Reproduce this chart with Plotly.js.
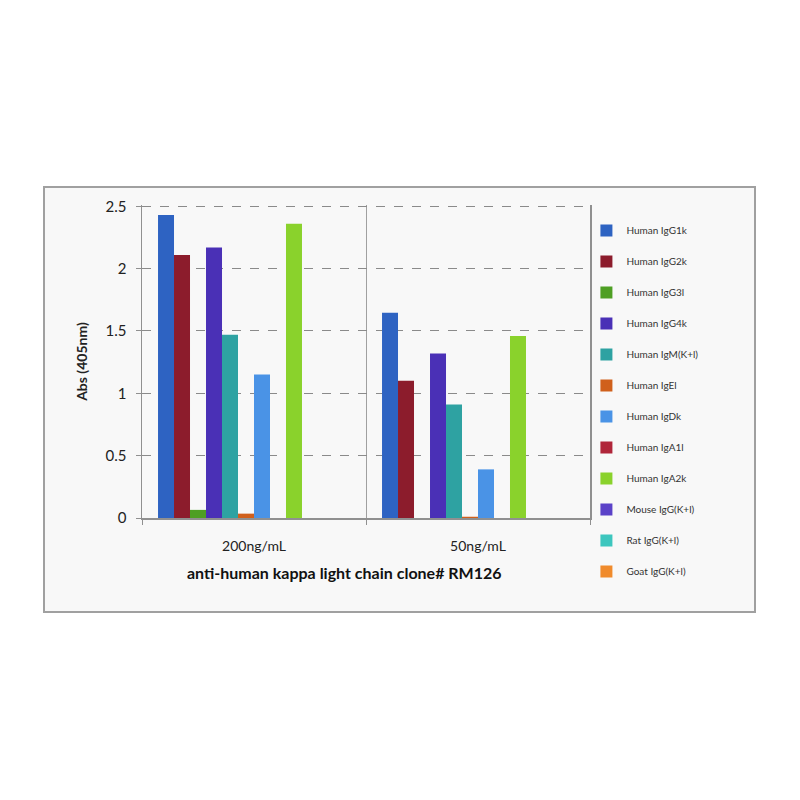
<!DOCTYPE html>
<html>
<head>
<meta charset="utf-8">
<script src="https://cdn.plot.ly/plotly-3.0.1.min.js"></script>
<style>body{margin:0;background:#fff;} #graph{width:800px;height:800px;}</style>
</head>
<body>
<div id="graph"></div>
<script>
const concentrations = ["200ng/mL", "50ng/mL"];
const antibodies = ["Human IgG1k", "Human IgG2k", "Human IgG3l", "Human IgG4k", "Human IgM(K+l)", "Human IgEl",
    "Human IgDk", "Human IgA1l", "Human IgA2k", "Mouse IgG(K+l)", "Rat IgG(K+l)", "Goat IgG(K+l)"];
// absorbance per antibody: [200ng/mL, 50ng/mL]
const abs_igg1k = [2.43, 1.645];
const abs_igg2k = [2.11, 1.10];
const abs_igg3l = [0.065, 0.0];
const abs_igg4k = [2.17, 1.32];
const abs_igm = [1.47, 0.91];
const abs_igel = [0.035, 0.01];
const abs_igdk = [1.15, 0.39];
const abs_iga1l = [0.0, 0.0];
const abs_iga2k = [2.36, 1.46];
const abs_mouse = [0.0, 0.0];
const abs_rat = [0.0, 0.0];
const abs_goat = [0.0, 0.0];
const series = [abs_igg1k, abs_igg2k, abs_igg3l, abs_igg4k, abs_igm, abs_igel, abs_igdk, abs_iga1l, abs_iga2k, abs_mouse, abs_rat, abs_goat];
const colors = ["#2E63C2", "#8C1C2C", "#4E9F24", "#4A30B6", "#2EA2A2", "#D0601C", "#4A93E6", "#B0263A", "#8AD22C", "#5B42C8", "#3DC6BE", "#F08B2C"];
const font_family = "Lato, 'Open Sans', sans-serif";

const traces = series.map((vals, i) => ({type: "bar", x: concentrations, y: vals, name: antibodies[i],
    legendgroup: "g" + i, marker: {color: colors[i], line: {width: 0}}}));

const plot_h = 800 - 205 - 282;
const layout = {
    width: 800, height: 800, paper_bgcolor: "#ffffff", plot_bgcolor: "rgba(0,0,0,0)",
    margin: {l: 142, r: 210, t: 205, b: 282},
    barmode: "group", bargap: 0.143, bargroupgap: 0,
    font: {family: font_family, color: "#222"},
    xaxis: {tickson: "boundaries", showgrid: true, gridcolor: "#a0a0a0", gridwidth: 1, ticks: "outside", ticklen: 5,
        tickcolor: "#909090", showline: true, linecolor: "#909090", linewidth: 1.5, mirror: false,
        tickfont: {size: 14, color: "#222"}, ticklabelstandoff: 15},
    yaxis: {range: [0, 2.51], dtick: 0.5, showgrid: true, griddash: "dash", gridcolor: "#8a8a8a", gridwidth: 1,
        zeroline: false, showline: true, mirror: true, linecolor: "#909090", linewidth: 1.5, ticks: "outside", ticklen: 5, tickcolor: "#909090",
        tickfont: {size: 15, color: "#222"}, ticklabelstandoff: 6,
        title: {text: "<b>Abs (405nm)</b>", font: {size: 14, color: "#222"}, standoff: 14}},
    showlegend: true,
    legend: {x: 0.992, xanchor: "left", y: 1 - 11 / plot_h, yanchor: "top", bgcolor: "rgba(0,0,0,0)", maxheight: 420,
        font: {size: 10, color: "#333"}, tracegroupgap: 12, itemwidth: 30, itemclick: false},
    annotations: [{text: "<b>anti-human kappa light chain clone# RM126</b>", xref: "paper", yref: "paper",
        x: 0.451, y: -54 / plot_h, xanchor: "center", yanchor: "middle", showarrow: false, font: {size: 16, color: "#111"}}],
    shapes: [{type: "rect", xref: "paper", yref: "paper", layer: "below",
        x0: (44 - 142) / 448, x1: (755 - 142) / 448, y0: (518 - 612) / plot_h, y1: 1 + (205 - 187) / plot_h,
        fillcolor: "#f8f8f8", line: {color: "#a0a0a0", width: 2}}]
};

Plotly.newPlot("graph", traces, layout, {displayModeBar: false, staticPlot: true});
</script>
</body>
</html>
